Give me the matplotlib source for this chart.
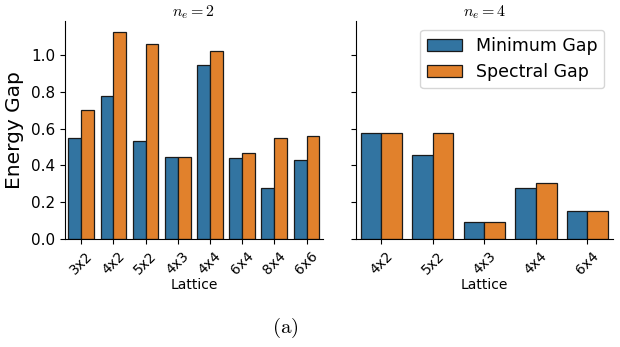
import numpy as np
import matplotlib
matplotlib.use("Agg")
from matplotlib import pyplot as plt

plt.rcParams['mathtext.fontset'] = 'cm'

# n_e = 2
lattice2 = ['3x2', '4x2', '5x2', '4x3', '4x4', '6x4', '8x4', '6x6']
min_gap2 = [0.547, 0.777, 0.533, 0.446, 0.943, 0.443, 0.276, 0.430]
spec_gap2 = [0.699, 1.127, 1.060, 0.446, 1.024, 0.466, 0.547, 0.562]

# n_e = 4
lattice4 = ['4x2', '5x2', '4x3', '4x4', '6x4']
min_gap4 = [0.575, 0.455, 0.094, 0.276, 0.152]
spec_gap4 = [0.575, 0.575, 0.094, 0.305, 0.152]

blue = '#3274a1'
orange = '#e1812c'

fig, axes = plt.subplots(1, 2, sharey=True, figsize=(6.2, 3.47), dpi=100)
fig.subplots_adjust(left=0.105, right=0.989, bottom=0.311, top=0.939, wspace=0.128)

panels = [(axes[0], lattice2, min_gap2, spec_gap2, r'$n_e = 2$'),
          (axes[1], lattice4, min_gap4, spec_gap4, r'$n_e = 4$')]

for ax, labels, mins, specs, title in panels:
	x = np.arange(len(labels))
	ax.bar(x - 0.2, mins, 0.4, color=blue, edgecolor='#1a1a1a', linewidth=0.9, label='Minimum Gap')
	ax.bar(x + 0.2, specs, 0.4, color=orange, edgecolor='#1a1a1a', linewidth=0.9, label='Spectral Gap')
	ax.set_xlim(-0.5, len(labels) - 0.5)
	ax.set_xticks(x)
	ax.set_xticklabels(labels, rotation=45, fontsize=10)
	ax.set_xlabel('Lattice', fontsize=10, labelpad=1)
	ax.set_title(title, fontsize=11.5, pad=3)
	ax.spines['top'].set_visible(False)
	ax.spines['right'].set_visible(False)
	ax.tick_params(axis='y', labelsize=11)

axes[0].set_ylabel('Energy Gap', fontsize=14.5, labelpad=5)
axes[1].legend(loc='upper right', fontsize=12.5)

fig.text(0.46, 0.055, r'$\mathrm{(a)}$', fontsize=15, ha='center', va='center')

plt.savefig('out.png')
